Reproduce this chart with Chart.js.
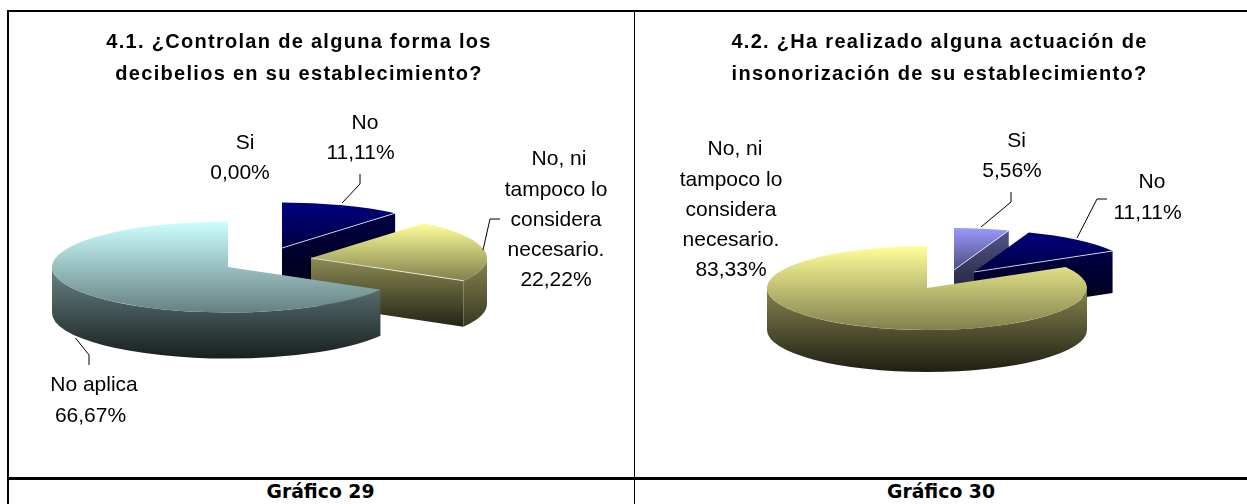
<!DOCTYPE html>
<html>
<head>
<meta charset="utf-8">
<title>Gráficos 29 y 30</title>
<script src="https://cdn.jsdelivr.net/npm/chart.js@4"></script>
<style>
  html, body { margin: 0; padding: 0; background: #fff; width: 1247px; height: 504px; overflow: hidden; }
  .line { position: absolute; background: #000; }
  canvas { position: absolute; top: 12px; }
  #chart29 { left: 9px; }
  #chart30 { left: 636px; }
  .caption { position: absolute; top: 481px; height: 23px; line-height: 24px; text-align: center;
    font: bold 18.8px "DejaVu Sans"; color: #000; }
</style>
</head>
<body>
<div class="line" style="left:7px;top:10px;width:1240px;height:2px"></div>
<div class="line" style="left:7px;top:10px;width:2px;height:494px"></div>
<div class="line" style="left:634px;top:10px;width:1px;height:494px"></div>
<div class="line" style="left:7px;top:477px;width:1240px;height:3px"></div>
<canvas id="chart29" width="624" height="464"></canvas>
<canvas id="chart30" width="611" height="464"></canvas>
<div class="caption" style="left:9px;width:623px">Gráfico 29</div>
<div class="caption" style="left:635px;width:612px">Gráfico 30</div>

<script>
// data
const labels29 = ['Si', 'No', 'No, ni tampoco lo considera necesario.', 'No aplica'];
const values29 = [0, 11.11, 22.22, 66.67];
const colors29 = ['#9999ff', '#000080', '#ffff99', '#ccffff'];
const title29 = ['4.1. ¿Controlan de alguna forma los', 'decibelios en su establecimiento?'];

const labels30 = ['Si', 'No', 'No, ni tampoco lo considera necesario.'];
const values30 = [5.56, 11.11, 83.33];
const colors30 = ['#9999ff', '#000080', '#ffff99'];
const title30 = ['4.2. ¿Ha realizado alguna actuación de', 'insonorización de su establecimiento?'];

Chart.defaults.font.family = '"Liberation Sans"';

function shade(hex, f) {
  const n = parseInt(hex.slice(1), 16);
  const c = [n >> 16, (n >> 8) & 255, n & 255].map(v => Math.round(v * f));
  return `rgb(${c[0]},${c[1]},${c[2]})`;
}

function vGrad(ctx, y0, y1, c0, c1) {
  const g = ctx.createLinearGradient(0, y0, 0, y1);
  g.addColorStop(0, c0);
  g.addColorStop(1, c1);
  return g;
}

// Excel style 3D pie: the arcs come from the doughnut controller, we only squash and extrude them
const pie3d = {
  id: 'pie3d',
  beforeDraw(chart) {
    chart.ctx.letterSpacing = '1.3px';
  },
  beforeDatasetsDraw(chart, args, opts) {
    const ctx = chart.ctx;
    ctx.letterSpacing = '0px';
    const arcs = chart.getDatasetMeta(0).data;
    const colors = chart.data.datasets[0].backgroundColor;
    const k = opts.ry / opts.rx;
    const d = opts.depth;

    opts.order.forEach(i => {
      const arc = arcs[i];
      if (arc.circumference === 0) return;
      const [px, py] = opts.apex[i];
      const base = colors[i];
      const pt = a => [px + opts.rx * Math.cos(a), py + opts.ry * Math.sin(a)];
      const s = arc.startAngle, e = arc.endAngle;

      // cut face at the clockwise end
      const corner = pt(e);
      if (Math.cos(e) > 0.001) {
        ctx.beginPath();
        ctx.moveTo(px, py);
        ctx.lineTo(corner[0], corner[1]);
        ctx.lineTo(corner[0], corner[1] + d);
        ctx.lineTo(px, py + d);
        ctx.closePath();
        const top = Math.min(py, corner[1]);
        ctx.fillStyle = vGrad(ctx, top, Math.max(py, corner[1]) + d, shade(base, 0.55), shade(base, 0.14));
        ctx.fill();
      }

      // outer wall
      const a0 = Math.max(s, 0), a1 = Math.min(e, Math.PI);
      if (a1 > a0) {
        ctx.beginPath();
        ctx.ellipse(px, py, opts.rx, opts.ry, 0, a0, a1);
        ctx.ellipse(px, py + d, opts.rx, opts.ry, 0, a1, a0, true);
        ctx.closePath();
        ctx.fillStyle = vGrad(ctx, py, py + opts.ry + d, shade(base, 0.52), shade(base, 0.12));
        ctx.fill();
      }

      // top face, drawn by the arc element itself
      const samples = [[px, py], pt(s), corner];
      if (s < Math.PI / 2 && e > Math.PI / 2) samples.push(pt(Math.PI / 2));
      if (s < -Math.PI / 2 && e > -Math.PI / 2) samples.push(pt(-Math.PI / 2));
      const ys = samples.map(p => p[1]);
      ctx.save();
      ctx.translate(px, py);
      ctx.scale(1, k);
      ctx.translate(-arc.x, -arc.y);
      const toLocal = y => arc.y + (y - py) / k;
      const saved = arc.options;
      arc.options = Object.assign({}, saved, {
        backgroundColor: vGrad(ctx, toLocal(Math.min(...ys)), toLocal(Math.max(...ys)), base, shade(base, 0.5))
      });
      arc.draw(ctx);
      arc.options = saved;
      ctx.restore();

      // thin light edge along the cut
      if (Math.cos(e) > 0.001) {
        ctx.beginPath();
        ctx.moveTo(px, py);
        ctx.lineTo(corner[0], corner[1]);
        ctx.strokeStyle = 'rgba(255,255,255,0.75)';
        ctx.lineWidth = 1;
        ctx.stroke();
      }
    });
    return false;
  },
  afterDraw(chart, args, opts) {
    const ctx = chart.ctx;
    const values = chart.data.datasets[0].data;
    ctx.save();
    ctx.fillStyle = '#000';
    ctx.font = '21px "Liberation Sans"';
    ctx.textAlign = 'center';
    ctx.textBaseline = 'middle';
    opts.labelBoxes.forEach(box => {
      const lines = box.lines.concat(values[box.index].toFixed(2).replace('.', ',') + '%');
      lines.forEach((t, j) => ctx.fillText(t, box.x + (j === 0 ? box.dx : 0), box.y + j * 30.3));
    });
    ctx.strokeStyle = '#000';
    ctx.lineWidth = 1;
    opts.leaders.forEach(path => {
      ctx.beginPath();
      path.forEach((p, j) => j ? ctx.lineTo(p[0], p[1]) : ctx.moveTo(p[0], p[1]));
      ctx.stroke();
    });
    ctx.restore();
  }
};

function renderPie(id, labels, values, colors, title, layoutRight, pieOpts) {
  new Chart(document.getElementById(id), {
    type: 'pie',
    data: {
      labels: labels,
      datasets: [{ data: values, backgroundColor: colors, borderWidth: 0, radius: pieOpts.rx }]
    },
    options: {
      responsive: false,
      animation: false,
      layout: { padding: { right: layoutRight } },
      plugins: {
        legend: { display: false },
        tooltip: { enabled: false },
        title: {
          display: true,
          text: title,
          color: '#000',
          font: { size: 20, weight: 'bold', lineHeight: 1.6 },
          padding: { top: 14, bottom: 0 }
        },
        pie3d: pieOpts
      }
    },
    plugins: [pie3d]
  });
}

renderPie('chart29', labels29, values29, colors29, title29, 44, {
  rx: 176, ry: 45.5, depth: 46,
  order: [1, 2, 3],
  apex: { 1: [273, 236], 2: [302, 246], 3: [219, 255] },
  labelBoxes: [
    { index: 0, lines: ['Si'], x: 231, y: 131, dx: 5 },
    { index: 1, lines: ['No'], x: 351.5, y: 111, dx: 4.5 },
    { index: 2, lines: ['No, ni', 'tampoco lo', 'considera', 'necesario.'], x: 547, y: 147.5, dx: 3 },
    { index: 3, lines: ['No aplica'], x: 81.5, y: 373.5, dx: 3.5 }
  ],
  leaders: [
    [[351, 162], [351, 172], [333, 191]],
    [[491, 207], [481, 207], [474, 238]],
    [[80, 353], [80, 343], [66.5, 326]]
  ]
});

renderPie('chart30', labels30, values30, colors30, title30, 4, {
  rx: 160, ry: 42, depth: 42,
  order: [0, 1, 2],
  apex: { 0: [318, 258], 1: [338, 260], 2: [291, 276] },
  labelBoxes: [
    { index: 0, lines: ['Si'], x: 376, y: 129, dx: 4.5 },
    { index: 1, lines: ['No'], x: 511.5, y: 170.5, dx: 4.5 },
    { index: 2, lines: ['No, ni', 'tampoco lo', 'considera', 'necesario.'], x: 95, y: 137.5, dx: 4 }
  ],
  leaders: [
    [[375, 180], [375, 190], [345, 215]],
    [[471, 187], [461, 187], [441, 226]]
  ]
});
</script>
</body>
</html>
